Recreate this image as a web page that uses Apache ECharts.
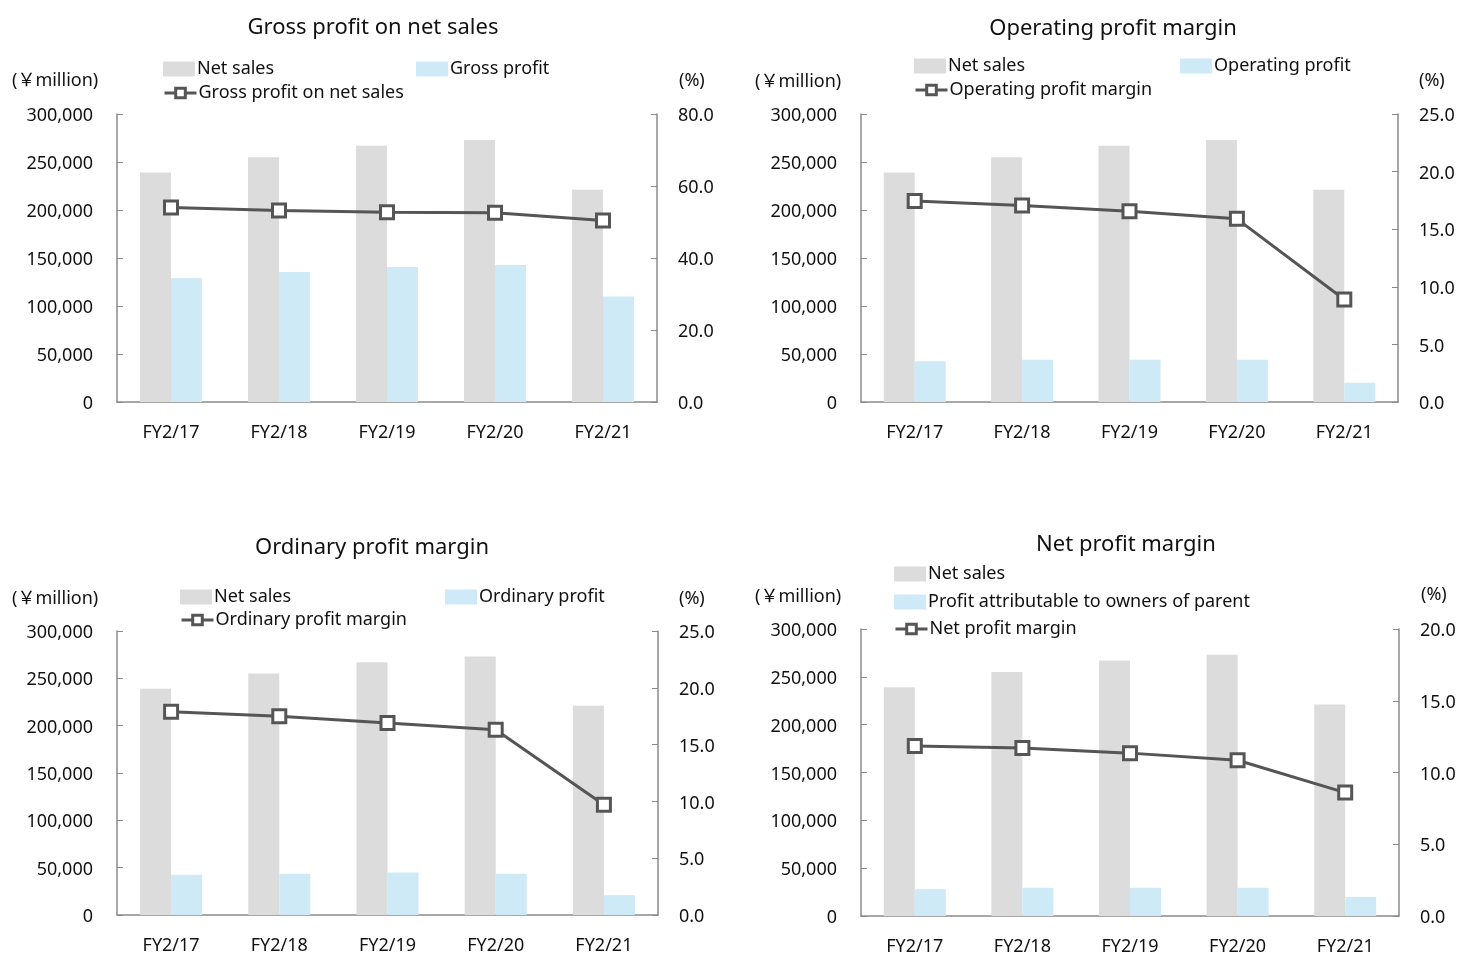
<!DOCTYPE html>
<html lang="en">
<head>
    <meta charset="UTF-8">
    <title>Profit margins</title>
    <script src="https://cdn.jsdelivr.net/npm/echarts@6/dist/echarts.min.js"></script>
    <style>
        body { margin: 0; background: #fff; }
        .box { position: absolute; width: 730px; height: 476px; }
    </style>
</head>
<body>
<div id="c1" class="box" style="left:0;top:0"></div>
<div id="c2" class="box" style="left:730px;top:0"></div>
<div id="c3" class="box" style="left:0;top:476px"></div>
<div id="c4" class="box" style="left:730px;top:476px"></div>
<script type="text/javascript">
    var years = ['FY2/17', 'FY2/18', 'FY2/19', 'FY2/20', 'FY2/21'];
    var netSales = [239000, 255000, 267000, 273000, 221000];

    var grossProfit = [129000, 135500, 140500, 142700, 110000];
    var grossMargin = [54.0, 53.2, 52.7, 52.6, 50.4];

    var operatingProfit = [42500, 44000, 44000, 44000, 20000];
    var operatingMargin = [17.45, 17.05, 16.55, 15.9, 8.9];

    var ordinaryProfit = [42500, 43500, 45000, 43500, 21000];
    var ordinaryMargin = [17.9, 17.5, 16.9, 16.3, 9.7];

    var netProfit = [28000, 29500, 29500, 29500, 20000];
    var netMargin = [11.85, 11.7, 11.35, 10.85, 8.6];

    var FONT = '"Noto Sans", "Noto Sans CJK JP", sans-serif';
    var AXIS_COLOR = '#8a8a8a';
    var LINE_COLOR = '#555555';
    var GREY = '#dcdcdc';
    var BLUE = '#cdeaf6';

    // 凡例を一つずつ置く
    function legendItem(name, left, top, isLine) {
        var item = isLine
            ? {name: name, lineStyle: {color: LINE_COLOR, width: 3},
                itemStyle: {color: '#fff', borderColor: LINE_COLOR, borderWidth: 3}}
            : {name: name, icon: 'rect'};
        return {
            data: [item],
            left: left,
            top: top,
            itemWidth: 32,
            itemHeight: isLine ? 12 : 15,
            itemGap: 0,
            padding: 0,
            selectedMode: false,
            textStyle: {fontFamily: FONT, fontSize: 18, color: '#111', padding: [0, 0, 0, -3]}
        };
    }

    // 目盛ラベルを少し下げる
    var labelRich = {a: {fontFamily: FONT, fontSize: 18, color: '#111', padding: [4, 0, 0, 0]}};

    function buildOption(cfg) {
        return {
            animation: false,
            title: {
                text: cfg.title,
                left: cfg.titleX,
                top: cfg.titleY,
                padding: 0,
                textAlign: 'center',
                textStyle: {fontFamily: FONT, fontSize: 22, fontWeight: 'normal', color: '#111'}
            },
            legend: cfg.legends,
            graphic: [
                {type: 'text', left: cfg.unitX, top: cfg.unitY,
                    style: {text: '(\uffe5million)', font: '18px ' + FONT, fill: '#111'}},
                {type: 'text', left: cfg.pctX, top: cfg.pctY,
                    style: {text: '(%)', font: '18px ' + FONT, fill: '#111'}}
            ],
            grid: {left: cfg.grid[0], right: cfg.grid[1], top: cfg.grid[2], height: cfg.grid[3],
                outerBoundsMode: 'none', containLabel: false},
            xAxis: {
                type: 'category',
                data: years,
                axisLine: {lineStyle: {color: AXIS_COLOR, width: 1.5}},
                axisTick: {inside: true, length: 5, lineStyle: {color: AXIS_COLOR}},
                axisLabel: {fontFamily: FONT, fontSize: 18, color: '#111', margin: 22}
            },
            yAxis: [
                {
                    type: 'value', min: 0, max: 300000, interval: 50000,
                    splitLine: {show: false},
                    axisLine: {show: true, lineStyle: {color: AXIS_COLOR, width: 1.5}},
                    axisTick: {show: true, inside: true, length: 6, lineStyle: {color: AXIS_COLOR}},
                    axisLabel: {margin: 24, rich: labelRich,
                        formatter: function (v) { return '{a|' + v.toLocaleString('en-US') + '}'; }}
                },
                {
                    type: 'value', min: 0, max: cfg.pctMax, interval: cfg.pctInterval,
                    splitLine: {show: false},
                    axisLine: {show: true, lineStyle: {color: AXIS_COLOR, width: 1.5}},
                    axisTick: {show: true, inside: true, length: 6, lineStyle: {color: AXIS_COLOR}},
                    axisLabel: {margin: 21, rich: labelRich,
                        formatter: function (v) { return '{a|' + v.toFixed(1) + '}'; }}
                }
            ],
            series: [
                {name: 'Net sales', type: 'bar', data: netSales, barWidth: 31, barGap: '0%',
                    itemStyle: {color: GREY}},
                {name: cfg.barName, type: 'bar', data: cfg.barData, barWidth: 31,
                    itemStyle: {color: BLUE}},
                {name: cfg.lineName, type: 'line', yAxisIndex: 1, data: cfg.lineData,
                    symbol: 'rect', symbolSize: 13, z: 5,
                    lineStyle: {color: LINE_COLOR, width: 3},
                    itemStyle: {color: '#fff', borderColor: LINE_COLOR, borderWidth: 3}}
            ]
        };
    }

    var configs = [
        {
            el: 'c1', title: 'Gross profit on net sales', titleX: 373, titleY: 17,
            unitX: 12, unitY: 72, pctX: 679, pctY: 72,
            grid: [117, 73, 114, 288], pctMax: 80, pctInterval: 20,
            barName: 'Gross profit', barData: grossProfit,
            lineName: 'Gross profit on net sales', lineData: grossMargin,
            legends: [
                legendItem('Net sales', 163, 60, false),
                legendItem('Gross profit', 416, 60, false),
                legendItem('Gross profit on net sales', 163, 84, true)
            ]
        },
        {
            el: 'c2', title: 'Operating profit margin', titleX: 383, titleY: 18,
            unitX: 25, unitY: 73, pctX: 689, pctY: 72,
            grid: [131, 62, 114, 288], pctMax: 25, pctInterval: 5,
            barName: 'Operating profit', barData: operatingProfit,
            lineName: 'Operating profit margin', lineData: operatingMargin,
            legends: [
                legendItem('Net sales', 184, 57, false),
                legendItem('Operating profit', 450, 57, false),
                legendItem('Operating profit margin', 184, 81, true)
            ]
        },
        {
            el: 'c3', title: 'Ordinary profit margin', titleX: 372, titleY: 61,
            unitX: 12, unitY: 114, pctX: 679, pctY: 114,
            grid: [117, 72, 155, 284], pctMax: 25, pctInterval: 5,
            barName: 'Ordinary profit', barData: ordinaryProfit,
            lineName: 'Ordinary profit margin', lineData: ordinaryMargin,
            legends: [
                legendItem('Net sales', 180, 112, false),
                legendItem('Ordinary profit', 445, 112, false),
                legendItem('Ordinary profit margin', 180, 135, true)
            ]
        },
        {
            el: 'c4', title: 'Net profit margin', titleX: 396, titleY: 58,
            unitX: 25, unitY: 112, pctX: 691, pctY: 110,
            grid: [131, 61, 153, 287], pctMax: 20, pctInterval: 5,
            barName: 'Profit attributable to owners of parent', barData: netProfit,
            lineName: 'Net profit margin', lineData: netMargin,
            legends: [
                legendItem('Net sales', 164, 89, false),
                legendItem('Profit attributable to owners of parent', 164, 117, false),
                legendItem('Net profit margin', 164, 144, true)
            ]
        }
    ];

    configs.forEach(function (cfg) {
        var chart = echarts.init(document.getElementById(cfg.el));
        chart.setOption(buildOption(cfg));
    });
</script>
</body>
</html>
